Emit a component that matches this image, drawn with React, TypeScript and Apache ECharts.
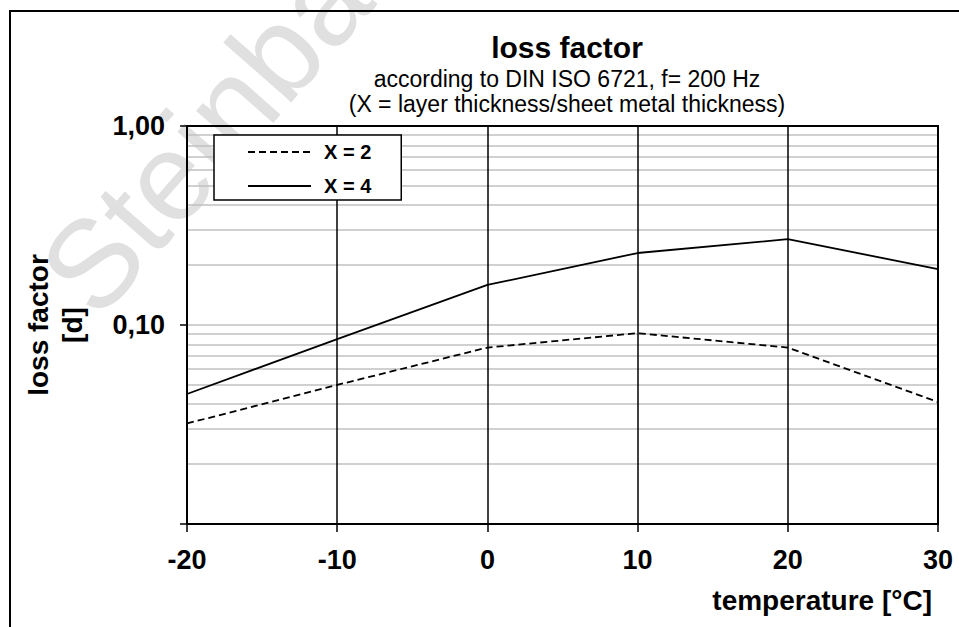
import React, { useEffect, useRef } from "react";
import * as echarts from "echarts";

const temperatures = [-20, -10, 0, 10, 20, 30];
const lossX2 = [0.032, 0.05, 0.077, 0.091, 0.077, 0.041];
const lossX4 = [0.045, 0.085, 0.159, 0.23, 0.27, 0.191];
const seriesNames = ["X = 2", "X = 4"];
const yTickLabels: Record<string, string> = { "1": "1,00", "0.1": "0,10" };
const minorGridValues = [
  0.02, 0.03, 0.04, 0.05, 0.06, 0.07, 0.08, 0.09, 0.1,
  0.2, 0.3, 0.4, 0.5, 0.6, 0.7, 0.8, 0.9,
];
const titleText = "loss factor";
const subText = "according to DIN ISO 6721, f= 200 Hz\n(X = layer thickness/sheet metal thickness)";
const yName = "loss factor\n[d]";
const xName = "temperature [°C]";
const watermark = "Steinbach";

const FONT = "'Liberation Sans', Arial, sans-serif";

export default function App() {
  const ref = useRef<HTMLDivElement>(null);
  useEffect(() => {
    document.body.style.margin = "0";
    const chart = echarts.init(ref.current!, undefined, { renderer: "svg" });
    const pts = (ys: number[]) => temperatures.map((t, i) => [t, ys[i]]);
    chart.setOption({
      animation: false,
      backgroundColor: "#fff",
      textStyle: { fontFamily: FONT },
      title: {
        text: titleText,
        subtext: subText,
        left: 562,
        textAlign: "center",
        top: 27,
        itemGap: 4,
        textStyle: { fontSize: 30, fontWeight: "bold", color: "#000", fontFamily: FONT },
        subtextStyle: { fontSize: 23, color: "#000", lineHeight: 25, fontFamily: FONT },
      },
      graphic: [
        {
          type: "text",
          x: 112,
          y: 335,
          rotation: 0.85,
          z: -10,
          silent: true,
          style: {
            text: watermark,
            font: "normal 125px 'Liberation Sans', Arial, sans-serif",
            fill: "#e0e0e0",
            textVerticalAlign: "bottom",
          },
        },
        {
          type: "rect",
          shape: { x: 10, y: 11, width: 1000, height: 700 },
          silent: true,
          style: { fill: "none", stroke: "#000", lineWidth: 2 },
        },
      ],
      legend: {
        data: seriesNames,
        orient: "vertical",
        left: 214,
        top: 135,
        itemWidth: 63,
        itemHeight: 14,
        itemGap: 14,
        padding: [7, 30, 4, 33],
        backgroundColor: "#fff",
        borderColor: "#000",
        borderWidth: 1.5,
        borderRadius: 0,
        itemStyle: { color: "rgba(0,0,0,0)", borderWidth: 0, opacity: 0 },
        textStyle: {
          fontSize: 20,
          fontWeight: "bold",
          color: "#000",
          fontFamily: FONT,
          padding: [0, 0, 0, 8],
          lineHeight: 20,
        },
      },
      grid: {
        left: 187,
        right: 21,
        top: 126,
        bottom: 103,
        show: true,
        borderColor: "#000",
        borderWidth: 2,
        backgroundColor: "transparent",
      },
      xAxis: {
        type: "value",
        min: -20,
        max: 30,
        interval: 10,
        name: xName,
        nameLocation: "end",
        nameGap: -6,
        nameTextStyle: {
          fontSize: 28,
          fontWeight: "bold",
          color: "#000",
          align: "right",
          verticalAlign: "top",
          padding: [62, 0, 0, 0],
          fontFamily: FONT,
        },
        axisLine: { show: true, onZero: false, lineStyle: { color: "#000", width: 2 } },
        axisTick: { show: true, length: 8, lineStyle: { color: "#000", width: 1.5 } },
        axisLabel: { fontSize: 27, fontWeight: "bold", color: "#000", margin: 22, fontFamily: FONT },
        splitLine: { show: true, lineStyle: { color: "#000", width: 1.5 } },
      },
      yAxis: {
        type: "log",
        logBase: 10,
        min: 0.01,
        max: 1,
        name: yName,
        nameLocation: "middle",
        nameGap: 98,
        nameTextStyle: {
          fontSize: 28,
          fontWeight: "bold",
          color: "#000",
          lineHeight: 34,
          fontFamily: FONT,
        },
        axisLine: { show: true, onZero: false, lineStyle: { color: "#000", width: 2 } },
        axisTick: { show: true, length: 7, lineStyle: { color: "#000", width: 1.5 } },
        axisLabel: {
          fontSize: 27,
          fontWeight: "bold",
          color: "#000",
          margin: 22,
          fontFamily: FONT,
          formatter: (v: number) => {
            const key = String(Math.round(v * 1000) / 1000);
            return yTickLabels[key] ?? "";
          },
        },
        splitLine: { show: false },
      },
      series: [
        {
          name: "grid",
          type: "line",
          data: [],
          silent: true,
          markLine: {
            z: -1,
            silent: true,
            symbol: "none",
            label: { show: false },
            lineStyle: { color: "#c0c0c0", width: 1.5, type: "solid" },
            emphasis: { disabled: true },
            data: minorGridValues.map((v) => ({ yAxis: v })),
          },
        },
        {
          name: seriesNames[0],
          type: "line",
          data: pts(lossX2),
          symbol: "none",
          lineStyle: { color: "#000", width: 1.8, type: [7, 4] },
          itemStyle: { color: "#000" },
          z: 3,
        },
        {
          name: seriesNames[1],
          type: "line",
          data: pts(lossX4),
          symbol: "none",
          lineStyle: { color: "#000", width: 1.8, type: "solid" },
          itemStyle: { color: "#000" },
          z: 3,
        },
      ],
    });
    return () => chart.dispose();
  }, []);
  return <div ref={ref} style={{ width: 959, height: 627 }} />;
}
